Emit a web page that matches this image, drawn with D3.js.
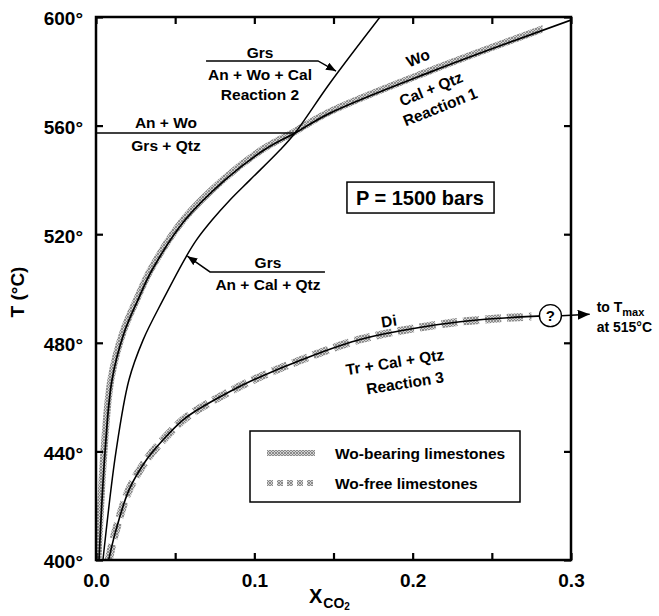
<!DOCTYPE html>
<html><head><meta charset="utf-8">
<script src="https://cdn.jsdelivr.net/npm/d3@7"></script>
<style>
body{margin:0;background:#fff;}
svg{display:block;font-family:"Liberation Sans",Arial,Helvetica,sans-serif;font-weight:bold;}
</style></head><body>
<svg id="chart" width="659" height="616"></svg>
<script>
// ---------- data ----------
const xTicks = [0, 0.05, 0.1, 0.15, 0.2, 0.25, 0.3];
const xTickLabels = ["0.0", "", "0.1", "", "0.2", "", "0.3"];
const yTicks = [400, 440, 480, 520, 560, 600];
const yTickLabels = ["400°", "440°", "480°", "520°", "560°", "600°"];

// Reaction 1: Wo = Cal + Qtz  [XCO2, T]
const reaction1 = [[0.0019,400],[0.0057,439.8],[0.0101,466.3],[0.0177,483.6],[0.0265,495.8],[0.0354,506.8],
  [0.0562,525.2],[0.0815,540],[0.1061,551],[0.1257,557.3],[0.1478,564.6],[0.211,579.7],[0.3,598.9]];
// Grs = An + Cal + Qtz, continuing above invariant point as Reaction 2
const grsCurve = [[0.0044,400],[0.0126,439.8],[0.0208,466.3],[0.0297,481],[0.0423,495.8],[0.0568,511.6],
  [0.0635,517.9],[0.0733,525.2],[0.0846,532.6],[0.0973,540],[0.1162,551],[0.1257,557.3],[0.1478,575.7],[0.1794,600]];
// Reaction 3: Di = Tr + Cal + Qtz
const reaction3 = [[0.008,400],[0.0126,411],[0.021,426],[0.032,437],[0.0423,444.2],[0.055,451.6],
  [0.0632,455],[0.084,461.9],[0.0992,466.3],[0.13,473.8],[0.1686,481.5],[0.2236,487.3],[0.26,489.2],[0.287,490]];
// An + Wo = Grs + Qtz (horizontal)
const anWoLine = [[0,557.3],[0.1257,557.3]];
const woBandEnd = 0.282;
const diBandEnd = 0.275;
const qPoint = [0.287, 490];
const tmaxArrowEnd = [0.3118, 490.5];
const legendItems = ["Wo-bearing limestones", "Wo-free limestones"];

// ---------- layout ----------
const W = 659, H = 616;
const m = {l:96, r:88, t:17, b:56};
const svg = d3.select("#chart");
const x = d3.scaleLinear([0, 0.3], [m.l, W - m.r]);
const y = d3.scaleLinear([400, 600], [H - m.b, m.t]);

const defs = svg.append("defs");
const pat = defs.append("pattern").attr("id","hatch").attr("width",3).attr("height",3)
  .attr("patternUnits","userSpaceOnUse");
pat.append("rect").attr("width",3).attr("height",3).attr("fill","#d2d2d2");
pat.append("path").attr("d","M0,3L3,0M0,0L3,3").attr("stroke","#7a7a7a").attr("stroke-width",0.8);

defs.append("clipPath").attr("id","plot").append("rect")
  .attr("x",x(0)).attr("y",y(600)).attr("width",x(0.3)-x(0)).attr("height",y(400)-y(600));
defs.append("clipPath").attr("id","woclip").append("rect")
  .attr("x",x(0)).attr("y",y(600)).attr("width",x(woBandEnd)-x(0)).attr("height",y(400)-y(600));
defs.append("clipPath").attr("id","diclip").append("rect")
  .attr("x",x(0)).attr("y",y(600)).attr("width",x(diBandEnd)-x(0)).attr("height",y(400)-y(600));

const mk = defs.append("marker").attr("id","arrow").attr("viewBox","0 0 10 8")
  .attr("refX",10).attr("refY",4).attr("markerWidth",10).attr("markerHeight",8)
  .attr("markerUnits","userSpaceOnUse").attr("orient","auto");
mk.append("path").attr("d","M0,0L10,4L0,8Z").attr("fill","#000");
const mk2 = defs.append("marker").attr("id","arrowBig").attr("viewBox","0 0 12 10")
  .attr("refX",12).attr("refY",5).attr("markerWidth",12).attr("markerHeight",10)
  .attr("markerUnits","userSpaceOnUse").attr("orient","auto");
mk2.append("path").attr("d","M0,0L12,5L0,10Z").attr("fill","#000");

const line = d3.line().x(d => x(d[0])).y(d => y(d[1])).curve(d3.curveCatmullRom.alpha(0.5));

// bands
const plotG = svg.append("g").attr("clip-path","url(#plot)");
plotG.append("g").attr("clip-path","url(#woclip)").append("path")
  .attr("d", line(reaction1)).attr("fill","none").attr("stroke","url(#hatch)")
  .attr("stroke-width",7).attr("transform","translate(-1,-1)");
plotG.append("g").attr("clip-path","url(#diclip)").append("path")
  .attr("d", line(reaction3)).attr("fill","none").attr("stroke","url(#hatch)")
  .attr("stroke-width",8).attr("stroke-dasharray","16,6");

// curves
plotG.append("path").attr("d", line(reaction1)).attr("fill","none").attr("stroke","#000").attr("stroke-width",1.7);
plotG.append("path").attr("d", line(grsCurve)).attr("fill","none").attr("stroke","#000").attr("stroke-width",1.5);
plotG.append("path").attr("d", line(reaction3)).attr("fill","none").attr("stroke","#000").attr("stroke-width",1.6);
plotG.append("path").attr("d", d3.line().x(d=>x(d[0])).y(d=>y(d[1]))(anWoLine))
  .attr("fill","none").attr("stroke","#000").attr("stroke-width",1.5);

// axes
const axStyle = g => {
  g.select(".domain").remove();
  g.selectAll(".tick line").attr("stroke","#000").attr("stroke-width",2.2);
  g.selectAll(".tick text").attr("fill","#000").style("font-size","19px").style("font-weight","bold")
   .style("font-family",'"Liberation Sans",Arial,sans-serif');
};
svg.append("g").attr("transform",`translate(0,${y(400)})`)
  .call(d3.axisBottom(x).tickValues(xTicks).tickFormat((d,i)=>xTickLabels[i]).tickSize(-7).tickPadding(14))
  .call(axStyle);
svg.append("g").attr("transform",`translate(0,${y(600)})`)
  .call(d3.axisTop(x).tickValues(xTicks).tickFormat("").tickSize(-7)).call(axStyle);
svg.append("g").attr("transform",`translate(${x(0)},0)`)
  .call(d3.axisLeft(y).tickValues(yTicks).tickFormat((d,i)=>yTickLabels[i]).tickSize(-7).tickPadding(13))
  .call(axStyle)
  .selectAll(".tick text").attr("dy","0.42em");
svg.append("g").attr("transform",`translate(${x(0.3)},0)`)
  .call(d3.axisRight(y).tickValues(yTicks).tickFormat("").tickSize(-7)).call(axStyle);

svg.append("rect").attr("x",x(0)).attr("y",y(600)).attr("width",x(0.3)-x(0)).attr("height",y(400)-y(600))
  .attr("fill","none").attr("stroke","#000").attr("stroke-width",2.5);

// axis titles
svg.append("text").attr("transform","translate(17,292) rotate(-90)").attr("text-anchor","middle")
  .attr("dy","0.36em").style("font-size","19px").text("T (°C)");
const xt = svg.append("text").attr("x",309).attr("y",603).style("font-size","20px");
xt.append("tspan").text("X");
xt.append("tspan").attr("dx",1).attr("dy",5).style("font-size","14px").text("CO");
xt.append("tspan").attr("dy",2).style("font-size","10px").text("2");

// annotations
const fs = "15.5px";
function label(X, T, txt, opts={}) {
  const t = svg.append("text").attr("x", x(X)).attr("y", y(T)).attr("text-anchor", opts.anchor || "middle")
    .style("font-size", opts.size || fs).text(txt);
  if (opts.rot) t.attr("transform", `rotate(${opts.rot},${x(X)},${y(T)})`).attr("dy","0.35em");
  return t;
}
const seg = (pts, arrow) => {
  const p = svg.append("path").attr("d", d3.line().x(d=>x(d[0])).y(d=>y(d[1]))(pts))
    .attr("fill","none").attr("stroke","#000").attr("stroke-width",1.4);
  if (arrow) p.attr("marker-end", `url(#${arrow})`);
};

// Reaction 2 label
label(0.1036, 584.9, "Grs");
label(0.1036, 576.8, "An + Wo + Cal");
label(0.1036, 569.4, "Reaction 2");
seg([[0.0695,583.8],[0.1402,583.8],[0.1516,580.1]], "arrow");

// An + Wo / Grs + Qtz
label(0.0442, 559.2, "An + Wo");
label(0.0442, 550.7, "Grs + Qtz");

// lower Grs label
label(0.1086, 507.5, "Grs");
label(0.1086, 499.4, "An + Cal + Qtz");
seg([[0.1446,506.1],[0.072,506.1],[0.0577,511.9]], "arrow");

// Reaction 1 labels
label(0.2034, 584.9, "Wo", {rot:-22});
label(0.2116, 573.5, "Cal + Qtz", {rot:-22});
label(0.2173, 566.9, "Reaction 1", {rot:-22});

// Reaction 3 labels
label(0.185, 488, "Di", {rot:-9});
label(0.1888, 472.9, "Tr + Cal + Qtz", {rot:-9});
label(0.1952, 465.2, "Reaction 3", {rot:-9});

// P box
const pb = svg.append("g");
pb.append("rect").attr("x", x(0.1585)).attr("y", y(539.2)).attr("width", x(0.2514)-x(0.1585))
  .attr("height", y(527.8)-y(539.2)).attr("fill","#fff").attr("stroke","#000").attr("stroke-width",1.5);
label(0.2046, 533.4, "P = 1500 bars", {size:"20px"}).attr("dy","0.36em");

// question mark and arrow to Tmax
const qx = x(qPoint[0]), qy = y(qPoint[1]);
svg.append("path").attr("d", `M${qx+11},${qy}L${x(tmaxArrowEnd[0])},${y(tmaxArrowEnd[1])}`)
  .attr("stroke","#000").attr("stroke-width",1.5).attr("marker-end","url(#arrowBig)");
svg.append("circle").attr("cx",qx).attr("cy",qy).attr("r",11).attr("fill","#fff")
  .attr("stroke","#000").attr("stroke-width",1.4);
svg.append("text").attr("x",qx).attr("y",qy).attr("dy","0.36em").attr("text-anchor","middle")
  .style("font-size","15px").text("?");
const tt = svg.append("text").attr("x", x(tmaxArrowEnd[0]) + 7).attr("y", y(tmaxArrowEnd[1]) - 2)
  .style("font-size","14px");
tt.append("tspan").text("to T");
tt.append("tspan").attr("dy",4).style("font-size","11px").text("max");
svg.append("text").attr("x", x(tmaxArrowEnd[0]) + 7).attr("y", y(tmaxArrowEnd[1]) + 18)
  .style("font-size","14px").text("at 515°C");

// legend
const lg = svg.append("g");
lg.append("rect").attr("x",250).attr("y",431).attr("width",270).attr("height",71)
  .attr("fill","#fff").attr("stroke","#000").attr("stroke-width",1.5);
legendItems.forEach((txt, i) => {
  const yy = 453 + i * 30;
  lg.append("line").attr("x1",267).attr("x2",315).attr("y1",yy).attr("y2",yy)
    .attr("stroke","url(#hatch)").attr("stroke-width",6)
    .attr("stroke-dasharray", i === 0 ? null : "6,4");
  lg.append("text").attr("x",335).attr("y",yy).attr("dy","0.36em").style("font-size",fs).text(txt);
});
</script>
</body></html>
